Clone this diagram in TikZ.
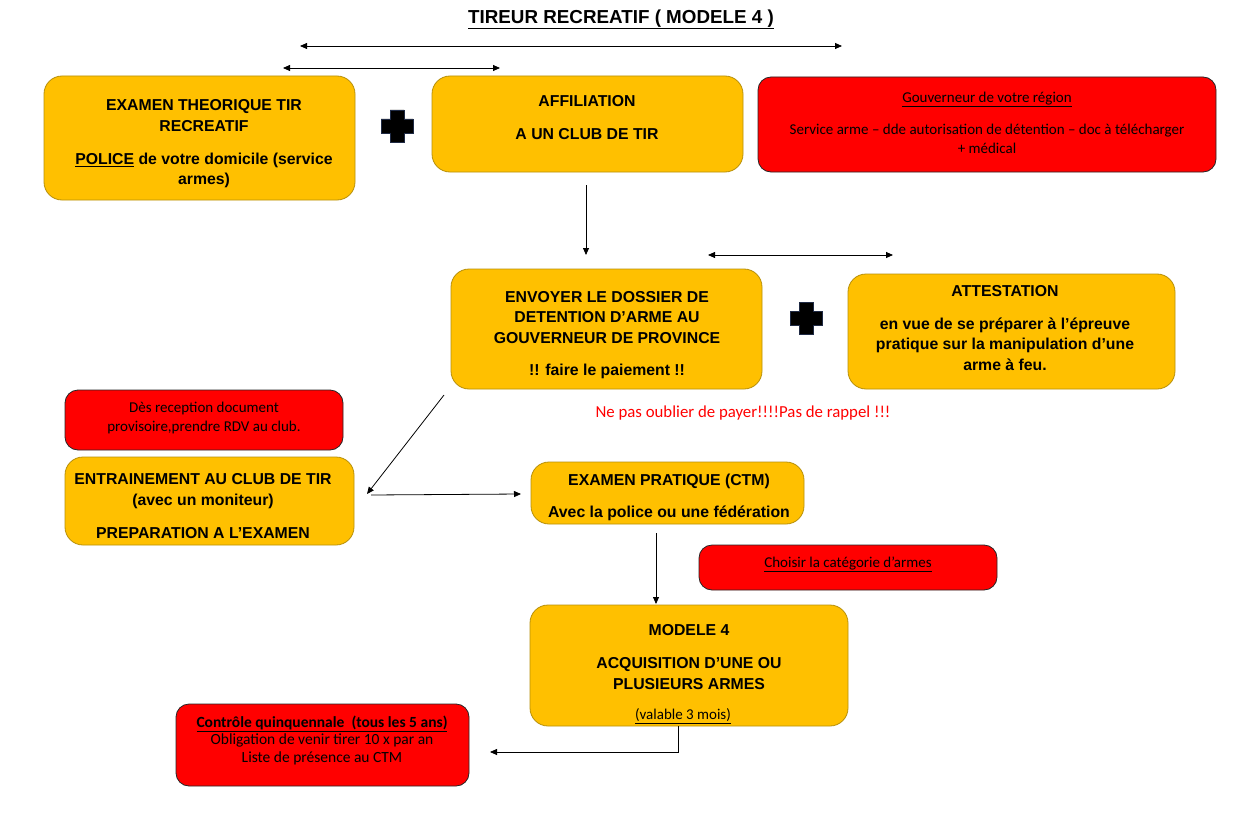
\documentclass[tikz,border=0pt]{standalone}
\usepackage{fontspec}
\setmainfont{Liberation Sans}
\newfontfamily\calfont{Carlito}
\usetikzlibrary{arrows.meta}
\definecolor{orng}{HTML}{FFC000}
\definecolor{orngb}{HTML}{B8900A}
\definecolor{rd}{HTML}{FF0000}
\definecolor{crossb}{HTML}{1F2A44}
\tikzset{
  ob/.style={draw=orngb, fill=orng, rounded corners=18pt, line width=0.8pt, inner sep=0pt},
  rb/.style={draw=black!85, fill=rd, rounded corners=13pt, line width=0.8pt, inner sep=0pt},
  bt/.style={font=\fontsize{15.8}{20.5}\selectfont\bfseries, align=center, inner sep=0pt},
  ct/.style={font=\calfont\fontsize{15}{19}\selectfont, align=center, inner sep=0pt},
  arr/.style={-{Triangle[length=7pt,width=6pt]}, line width=0.8pt},
  darr/.style={{Triangle[length=7pt,width=6pt]}-{Triangle[length=7pt,width=6pt]}, line width=0.8pt},
  pluscross/.pic={\filldraw[fill=black, draw=crossb, line width=0.6pt]
    (-7,-16) -- (7,-16) -- (7,-7) -- (16,-7) -- (16,7) -- (7,7) -- (7,16) -- (-7,16)
    -- (-7,7) -- (-16,7) -- (-16,-7) -- (-7,-7) -- cycle;}
}
\begin{document}
\begin{tikzpicture}[x=1pt,y=-1pt]
\useasboundingbox[fill=white] (0,0) rectangle (1239,824);

% title
\node[font=\fontsize{18.8}{20}\selectfont\bfseries, inner sep=0pt] (title) at (621,19.5) {\underline{TIREUR RECREATIF ( MODELE 4 )}};

% boxes
\node[ob, minimum width=311pt, minimum height=124pt] (b1) at (199.5,138) {};
\node[ob, minimum width=311pt, minimum height=96pt] (b2) at (587.5,124) {};
\node[rb, minimum width=458pt, minimum height=95pt] (r1) at (987,124.5) {};
\node[ob, minimum width=311pt, minimum height=120pt] (b3) at (606.5,329) {};
\node[ob, minimum width=327pt, minimum height=115pt] (b4) at (1011.5,331.5) {};
\node[rb, minimum width=278pt, minimum height=60pt] (r2) at (204,420) {};
\node[ob, minimum width=289pt, minimum height=88pt] (b5) at (209.5,501) {};
\node[ob, minimum width=273pt, minimum height=62pt] (b6) at (667.5,493) {};
\node[rb, minimum width=298pt, minimum height=45pt] (r3) at (848,567.5) {};
\node[ob, minimum width=318pt, minimum height=121pt] (b7) at (689,665.5) {};
\node[rb, minimum width=293pt, minimum height=82pt] (r4) at (322.5,745) {};

% texts
\node[bt] (t1) at (204,144) {EXAMEN THEORIQUE TIR\\RECREATIF\\[12.5pt]\underline{POLICE} de votre domicile (service\\armes)};
\node[bt] (t2) at (587,117.5) {AFFILIATION\\[12.5pt]A UN CLUB DE TIR};
\node[ct] (t3) at (987,122.5) {\underline{Gouverneur de votre région}\\[13pt]Service arme – dde autorisation de détention – doc à télécharger\\+ médical};
\node[bt] (t4) at (607,335) {ENVOYER LE DOSSIER DE\\DETENTION D’ARME AU\\GOUVERNEUR DE PROVINCE\\[11.5pt]!! faire le paiement !!};
\node[bt] (t5) at (1005,328) {ATTESTATION\\[12.5pt]en vue de se préparer à l’épreuve\\pratique sur la manipulation d’une\\arme à feu.};
\node[ct] (t6) at (204,418) {Dès reception document\\provisoire,prendre RDV au club.};
\node[bt] (t7) at (203,506) {ENTRAINEMENT AU CLUB DE TIR\\(avec un moniteur)\\[12.5pt]PREPARATION A L’EXAMEN};
\node[bt] (t8) at (669,497) {EXAMEN PRATIQUE (CTM)\\[11.5pt]Avec la police ou une fédération};
\node[ct] (t9) at (848,564) {\underline{Choisir la catégorie d’armes}};
\node[bt] (t10) at (689,657) {MODELE 4\\[12.5pt]ACQUISITION D’UNE OU\\PLUSIEURS ARMES};
\node[ct] (t10b) at (683,716) {\underline{(valable 3 mois)}};
\node[ct, font=\calfont\fontsize{15.5}{17.5}\selectfont] (t11) at (322,740) {\textbf{\underline{Contrôle quinquennale\ \ (tous les 5 ans)}}\\Obligation de venir tirer 10 x par an\\Liste de présence au CTM};
\node[font=\calfont\fontsize{16.8}{19}\selectfont, text=rd, inner sep=0pt] (warn) at (743,413) {Ne pas oublier de payer!!!!Pas de rappel !!!};

% plus signs
\pic at (397,126) {pluscross};
\pic at (806,318) {pluscross};

% connector end points
\coordinate (a1l) at (300,46);
\coordinate (a1r) at (842,46);
\coordinate (a2l) at (283,68);
\coordinate (a2r) at (500,68);
\coordinate (a3s) at (586,185);
\coordinate (a3e) at (586,255);
\coordinate (a4l) at (708,255);
\coordinate (a4r) at (893,255);
\coordinate (a5s) at (444,395);
\coordinate (a5e) at (367,494);
\coordinate (a6s) at (371,495);
\coordinate (a6e) at (521,494);
\coordinate (a7s) at (656,533);
\coordinate (a7e) at (656,604);
\coordinate (a8s) at (678,726);
\coordinate (a8m) at (678,752);
\coordinate (a8e) at (490,752);

\draw[darr] (a1l) -- (a1r);
\draw[darr] (a2l) -- (a2r);
\draw[arr] (a3s) -- (a3e);
\draw[darr] (a4l) -- (a4r);
\draw[arr] (a5s) -- (a5e);
\draw[arr] (a6s) -- (a6e);
\draw[arr] (a7s) -- (a7e);
\draw[arr] (a8s) -- (a8m) -- (a8e);
\end{tikzpicture}
\end{document}
